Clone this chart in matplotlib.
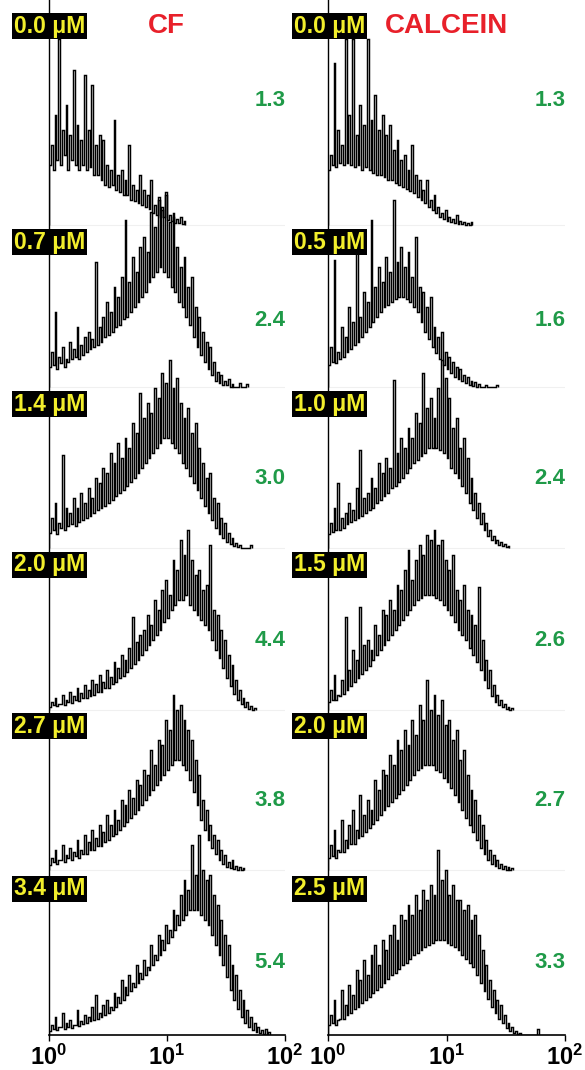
import numpy as np
import matplotlib
matplotlib.use('Agg')
import matplotlib.pyplot as plt
from matplotlib.ticker import NullLocator, FixedLocator, FixedFormatter

plt.rcParams['font.family'] = ['Liberation Sans', 'DejaVu Sans']
plt.rcParams['mathtext.fontset'] = 'custom'
plt.rcParams['mathtext.rm'] = 'Liberation Sans'
plt.rcParams['mathtext.bf'] = 'Liberation Sans:bold'

# ---------------- data ----------------
# Each histogram is read as pairs of channels: a low (trough) channel and a
# high (spike) channel per 1/32 decade, starting at 10^0.
PAIRS_PER_DECADE = 32

panel_titles = ['CF', 'CALCEIN']
cf_conc = ['0.0 μM', '0.7 μM', '1.4 μM', '2.0 μM', '2.7 μM', '3.4 μM']
calcein_conc = ['0.0 μM', '0.5 μM', '1.0 μM', '1.5 μM', '2.0 μM', '2.5 μM']
cf_ratio = ['1.3', '2.4', '3.0', '4.4', '3.8', '5.4']
calcein_ratio = ['1.3', '1.6', '2.4', '2.6', '2.7', '3.3']
tick_values = [1, 10, 100]
tick_labels = [r'$\mathbf{10^{0}}$', r'$\mathbf{10^{1}}$', r'$\mathbf{10^{2}}$']

# ---- CF ----
cf_00_hi = [80, 110, 186, 95, 120, 90, 155, 100, 85, 150, 95, 140, 80, 90, 85, 60, 55, 105,
            50, 55, 45, 80, 40, 35, 50, 35, 30, 45, 20, 25, 15, 30, 10, 12, 6, 8, 4]
cf_00_lo = [60, 55, 65, 60, 70, 55, 65, 60, 55, 60, 55, 58, 50, 50, 45, 40, 38, 40,
            35, 33, 30, 30, 25, 24, 22, 20, 18, 16, 12, 10, 8, 8, 5, 4, 2, 2, 1]
cf_07_hi = [35, 75, 30, 40, 28, 45, 38, 60, 42, 50, 55, 48, 125, 60, 70, 85, 75, 100, 90, 110,
            167, 105, 130, 115, 140, 150, 135, 175, 160, 190, 180, 195, 165, 170, 140, 120, 130,
            100, 110, 80, 70, 55, 45, 40, 25, 15, 12, 6, 8, 3, 0, 4, 0, 3]
cf_07_lo = [20, 22, 18, 24, 20, 25, 28, 30, 28, 32, 35, 38, 40, 42, 45, 50, 52, 55, 60, 62,
            68, 70, 75, 80, 85, 90, 95, 105, 110, 115, 120, 115, 110, 100, 95, 85, 80,
            70, 62, 50, 40, 32, 25, 18, 12, 6, 4, 2, 2, 0, 0, 0, 0, 0]
cf_14_hi = [30, 45, 25, 93, 40, 35, 50, 40, 55, 45, 60, 50, 70, 65, 80, 75, 95, 85, 105, 90,
            110, 100, 125, 115, 155, 130, 145, 135, 160, 150, 175, 165, 188, 160, 170, 145, 130,
            140, 115, 125, 100, 85, 70, 75, 50, 45, 30, 25, 15, 10, 5, 3, 0, 0, 3]
cf_14_lo = [15, 18, 14, 20, 18, 22, 24, 22, 26, 28, 30, 32, 35, 38, 40, 42, 45, 48, 52, 55,
            58, 62, 66, 70, 75, 80, 85, 90, 95, 100, 105, 110, 110, 105, 100, 95, 85,
            80, 72, 65, 58, 50, 42, 35, 28, 20, 14, 10, 6, 4, 2, 1, 0, 0, 0]
cf_20_hi = [8, 12, 6, 15, 10, 18, 14, 22, 17, 25, 20, 30, 26, 35, 28, 40, 33, 48, 42, 55,
            50, 62, 93, 68, 75, 80, 95, 85, 110, 100, 120, 130, 115, 150, 140, 170, 155, 180,
            150, 135, 140, 120, 125, 165, 100, 95, 80, 70, 55, 45, 30, 20, 12, 8, 4, 2]
cf_20_lo = [3, 5, 4, 6, 5, 8, 7, 10, 9, 12, 12, 14, 15, 18, 18, 22, 22, 26, 28, 32,
            34, 38, 42, 46, 50, 55, 60, 65, 70, 75, 80, 88, 92, 100, 105, 110, 110, 115,
            105, 100, 95, 90, 85, 80, 70, 60, 52, 42, 32, 24, 16, 10, 6, 3, 1, 0]
cf_27_hi = [12, 20, 10, 25, 15, 22, 18, 30, 20, 35, 28, 40, 32, 45, 38, 55, 45, 60, 50, 70,
            65, 80, 72, 90, 85, 100, 95, 120, 105, 130, 125, 150, 140, 175, 160, 165, 150, 140,
            130, 110, 95, 70, 60, 45, 35, 30, 20, 15, 8, 10, 4, 3, 2]
cf_27_lo = [5, 8, 6, 10, 8, 12, 10, 14, 12, 16, 16, 20, 20, 24, 24, 28, 30, 34, 36, 40,
            44, 48, 52, 56, 60, 65, 70, 75, 80, 85, 90, 95, 100, 105, 110, 110, 105, 100,
            90, 78, 65, 50, 40, 30, 22, 16, 10, 6, 3, 2, 1, 0, 0]
cf_34_hi = [10, 18, 8, 22, 12, 15, 10, 25, 14, 20, 18, 28, 40, 22, 30, 35, 28, 42, 38, 55,
            48, 60, 52, 70, 62, 75, 68, 90, 80, 100, 95, 110, 105, 125, 120, 140, 155, 145, 190,
            160, 200, 165, 155, 160, 140, 130, 115, 100, 90, 70, 60, 45, 35, 25, 18, 12, 8, 5, 6, 3]
cf_34_lo = [4, 6, 5, 8, 6, 8, 7, 10, 9, 11, 12, 14, 15, 16, 18, 20, 22, 25, 28, 32,
            35, 40, 44, 48, 52, 56, 60, 65, 70, 75, 80, 85, 92, 98, 105, 110, 115, 120, 125,
            125, 125, 120, 115, 110, 100, 90, 80, 70, 58, 45, 35, 26, 18, 12, 8, 5, 3, 2, 1, 0]

# ---- CALCEIN ----
ca_00_hi = [70, 162, 95, 80, 186, 110, 186, 90, 120, 100, 186, 105, 130, 95, 110, 90, 100, 75,
            85, 65, 70, 55, 80, 50, 45, 35, 45, 25, 30, 18, 12, 15, 8, 6, 10, 4, 3, 2, 3]
ca_00_lo = [55, 60, 58, 62, 60, 62, 60, 58, 60, 55, 58, 55, 52, 50, 50, 48, 45, 45,
            42, 40, 38, 36, 34, 32, 28, 25, 22, 18, 15, 12, 8, 6, 4, 3, 2, 1, 1, 0, 0]
ca_05_hi = [40, 127, 35, 60, 50, 80, 65, 154, 70, 95, 85, 167, 100, 120, 105, 130, 115, 187,
            125, 140, 120, 135, 110, 150, 100, 95, 80, 90, 60, 50, 55, 35, 30, 25, 20, 18, 12,
            10, 6, 5, 3, 0, 2, 0, 0, 2]
ca_05_lo = [22, 25, 24, 28, 30, 35, 38, 42, 45, 50, 55, 60, 65, 70, 75, 80, 82, 85,
            88, 90, 90, 88, 85, 80, 75, 65, 55, 48, 40, 34, 28, 22, 18, 14, 10, 8, 6,
            4, 2, 1, 0, 0, 0, 0, 0, 0]
ca_10_hi = [25, 40, 65, 30, 35, 45, 38, 60, 98, 50, 55, 70, 60, 85, 75, 90, 80, 168, 95, 110,
            100, 120, 110, 135, 125, 175, 140, 150, 130, 160, 188, 170, 150, 120, 130, 100, 110,
            90, 70, 55, 45, 35, 25, 18, 12, 8, 6, 4, 2]
ca_10_lo = [14, 16, 18, 18, 20, 24, 26, 28, 30, 32, 35, 38, 40, 45, 48, 52, 55, 60, 62, 66,
            70, 75, 80, 85, 88, 92, 95, 100, 100, 100, 98, 95, 90, 80, 75, 70, 62,
            55, 45, 38, 30, 24, 18, 12, 8, 5, 3, 2, 1]
ca_15_hi = [20, 35, 15, 30, 93, 40, 60, 50, 103, 65, 70, 60, 85, 75, 100, 95, 110, 100, 125,
            120, 140, 160, 130, 150, 165, 155, 175, 170, 180, 165, 170, 150, 140, 155, 120, 110,
            125, 100, 95, 85, 123, 70, 50, 40, 25, 15, 10, 6, 3, 2]
ca_15_lo = [8, 10, 10, 14, 16, 20, 24, 28, 32, 36, 40, 44, 50, 55, 60, 65, 70, 75, 80,
            85, 90, 95, 100, 105, 110, 112, 115, 115, 115, 112, 110, 105, 100, 95, 88, 80,
            75, 70, 62, 55, 48, 40, 30, 22, 14, 8, 5, 3, 1, 0]
ca_20_hi = [25, 40, 20, 50, 30, 45, 60, 40, 75, 55, 70, 60, 90, 80, 100, 95, 115, 105, 130, 120,
            140, 125, 150, 135, 165, 150, 190, 160, 175, 155, 170, 145, 150, 130, 140, 110, 120,
            95, 80, 70, 55, 45, 30, 20, 15, 10, 6, 4, 3, 2]
ca_20_lo = [12, 14, 12, 18, 18, 22, 26, 26, 32, 34, 38, 42, 46, 50, 55, 60, 64, 68, 72, 76,
            80, 85, 90, 95, 100, 102, 105, 105, 105, 100, 98, 92, 88, 82, 75, 68, 60,
            52, 45, 38, 30, 22, 16, 10, 6, 4, 2, 1, 0, 0]
ca_25_hi = [20, 35, 15, 45, 30, 50, 40, 65, 55, 75, 60, 80, 90, 70, 95, 85, 100, 110, 95, 120,
            115, 130, 120, 140, 125, 145, 135, 150, 140, 185, 155, 165, 140, 150, 135, 135, 125,
            130, 115, 120, 100, 85, 70, 55, 45, 35, 30, 20, 12, 8, 4, 2, 0, 0, 0, 0, 6]
ca_25_lo = [10, 12, 10, 16, 16, 20, 22, 26, 28, 32, 35, 38, 42, 45, 48, 52, 56, 60, 62, 66,
            70, 72, 76, 80, 82, 85, 88, 90, 92, 95, 95, 95, 92, 90, 88, 85, 80,
            76, 72, 68, 60, 52, 44, 36, 28, 22, 16, 12, 7, 4, 2, 1, 0, 0, 0, 0, 0]

cf_series = [(cf_00_lo, cf_00_hi), (cf_07_lo, cf_07_hi), (cf_14_lo, cf_14_hi),
             (cf_20_lo, cf_20_hi), (cf_27_lo, cf_27_hi), (cf_34_lo, cf_34_hi)]
ca_series = [(ca_00_lo, ca_00_hi), (ca_05_lo, ca_05_hi), (ca_10_lo, ca_10_hi),
             (ca_15_lo, ca_15_hi), (ca_20_lo, ca_20_hi), (ca_25_lo, ca_25_hi)]

# ---------------- layout ----------------
W, H = 585, 1070
row_offsets = [810, 648, 487, 325, 165, 0]          # stacking offsets (data units)
box_y_px = [26, 242, 404, 565, 726, 889]            # label box centres
ratio_y_px = [101, 320, 478, 640, 800, 963]         # green numbers

fig = plt.figure(figsize=(W / 100, H / 100), dpi=100)
fig.patch.set_facecolor('white')

columns = [
    dict(x0=49, x1=285, series=cf_series, conc=cf_conc, ratio=cf_ratio,
         title=panel_titles[0], title_x=166, box_x=14, ratio_x=270),
    dict(x0=328, x1=565, series=ca_series, conc=calcein_conc, ratio=calcein_ratio,
         title=panel_titles[1], title_x=447, box_x=294, ratio_x=550),
]

for col in columns:
    ax = fig.add_axes([col['x0'] / W, 35 / H, (col['x1'] - col['x0']) / W, 1 - 35 / H])
    ax.set_xscale('log')
    ax.set_xlim(1, 100)
    ax.set_ylim(0, 1035)
    ax.set_facecolor('none')
    for s in ['top', 'right']:
        ax.spines[s].set_visible(False)
    ax.spines['left'].set_linewidth(1.0)
    ax.spines['bottom'].set_linewidth(1.2)
    ax.set_yticks([])
    ax.xaxis.set_major_locator(FixedLocator(tick_values))
    ax.xaxis.set_major_formatter(FixedFormatter(tick_labels))
    ax.xaxis.set_minor_locator(NullLocator())
    ax.tick_params(axis='x', length=4, width=1.0, pad=3, labelsize=17)

    ax.hlines(row_offsets[:-1], 1, 100, color='#f0f0f0', lw=0.8, zorder=0)

    for (lo, hi), off in zip(col['series'], row_offsets):
        lo = np.asarray(lo, dtype=float)
        hi = np.asarray(hi, dtype=float)
        counts = np.empty(2 * len(lo))
        counts[0::2] = lo
        counts[1::2] = hi
        edges = 10 ** (np.arange(len(counts) + 1) / (2 * PAIRS_PER_DECADE))
        ax.stairs(counts + off, edges, baseline=off, color='black', lw=1.05, zorder=2)

    fig.text(col['title_x'] / W, 1 - 26 / H, col['title'], color='#e8202a',
             fontsize=20, fontweight='bold', ha='center', va='center')
    for label, yb in zip(col['conc'], box_y_px):
        fig.text(col['box_x'] / W, 1 - yb / H, label, color='#f2ee2c', fontsize=16.5,
                 fontweight='bold', ha='left', va='center', zorder=5,
                 bbox=dict(boxstyle='square,pad=0.08', facecolor='black', edgecolor='none'))
    for r, yr in zip(col['ratio'], ratio_y_px):
        fig.text(col['ratio_x'] / W, 1 - yr / H, r, color='#1f9a48', fontsize=16,
                 fontweight='bold', ha='center', va='center')

fig.savefig('out.png', dpi=100, facecolor='white')
